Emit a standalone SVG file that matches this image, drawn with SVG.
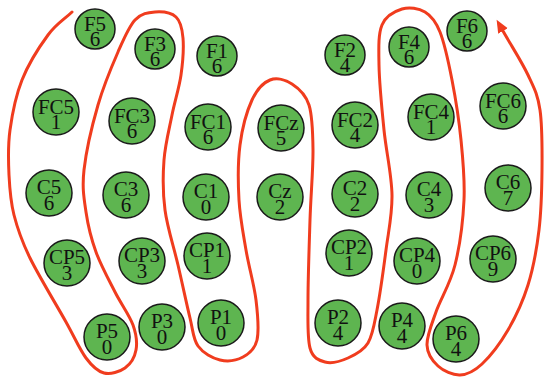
<svg xmlns="http://www.w3.org/2000/svg" width="545" height="377" viewBox="0 0 545 377">
<style>
.n circle{fill:#5eb550;stroke:#1a1a1a;stroke-width:1.5}
.n text{font-family:"Liberation Serif","Times New Roman",serif;font-size:21px;fill:#111;text-anchor:middle}
.c{fill:none;stroke:#f03c1e;stroke-width:3;stroke-linecap:round;stroke-linejoin:round}
</style>
<defs>
<marker id="ah" markerUnits="userSpaceOnUse" markerWidth="14" markerHeight="12" viewBox="0 -6 14 12" refX="0" refY="0" orient="auto">
<path d="M0,-5.5 L13,0 L0,5.5 z" fill="#f03c1e"/>
</marker>
</defs>
<g id="connectors">
<path class="c" marker-end="url(#ah)" d="M72,12 C64,19.7 56.3,23.7 48,35 S28.3,64.2 22,80 S12.2,114.2 10,130 S8.3,160.8 9,175 S10.5,201.2 14,215 S21.3,240.2 30,258 S56.7,305.3 66,322 S79.7,349.5 86,358 S97.5,371.3 104,373 S119.7,371.8 125,368 S134.7,357.2 136,350 S136.5,334.7 133,325 S121.2,304.2 115,292 S100.8,265.3 96,252 S88,225.7 86,212 S82,187.8 84,170 S92.3,124.7 98,105 S111.8,66.2 118,52 S128.8,26.7 135,20 S148.2,12.5 155,12 S171.3,12.7 176,17 S182.2,28.3 183,38 S182.8,62.2 181,75 S174.8,100.8 172,115 S165.2,144.2 164,160 S162.7,192.5 165,210 S173.8,247 178,265 S186.7,304.5 190,318 S193,339 198,346 S212.5,358.2 220,360 S236.8,360.3 243,357 S254.8,349.5 257,340 S257.8,315 256,300 S248.8,266.7 246,250 S240,217.5 239,200 S237.8,161.7 240,145 S247,110.8 252,100 S263.3,82.7 270,80 S285.5,79.8 292,84 S305.5,94 309,105 S312.8,130.8 313,150 S310.8,195 310,220 S308,278.7 308,300 S307.2,337.7 310,348 S318.7,360.3 325,362 S340.8,361.2 348,358 S363.2,351 368,343 S374,325.5 377,310 S383.5,269.2 386,250 S392.3,215 392,195 S386.2,151.7 384,130 S379.3,82.5 379,65 S378.2,34.3 382,25 S394.8,11.2 402,9 S418.7,8.2 425,12 S435.5,20.7 440,32 S448.5,62 452,80 S459,120 461,140 S465,179.2 464,200 S459.7,246.3 455,265 S440.7,298.7 436,312 S426.7,336 427,345 S432.5,361 438,366 S452.7,375.3 460,375 S474,371.5 482,364 S500.3,343.2 508,330 S522.8,301.7 528,285 S536.7,249.2 539,230 S541.8,190 542,170 S542.3,125.8 540,110 S534.2,88.2 528,75 S511.3,45.7 503,31"/>
</g>
<g id="F5" class="n"><circle cx="95" cy="29" r="20"/><text><tspan x="95" y="31">F5</tspan><tspan x="95" y="46">6</tspan></text></g>
<g id="F3" class="n"><circle cx="155" cy="49" r="20"/><text><tspan x="155" y="51">F3</tspan><tspan x="155" y="66">6</tspan></text></g>
<g id="F1" class="n"><circle cx="217" cy="56" r="20"/><text><tspan x="217" y="58">F1</tspan><tspan x="217" y="73">6</tspan></text></g>
<g id="F2" class="n"><circle cx="345" cy="55" r="20"/><text><tspan x="345" y="57">F2</tspan><tspan x="345" y="72">4</tspan></text></g>
<g id="F4" class="n"><circle cx="409" cy="47" r="20"/><text><tspan x="409" y="49">F4</tspan><tspan x="409" y="64">6</tspan></text></g>
<g id="F6" class="n"><circle cx="467" cy="31" r="20"/><text><tspan x="467" y="33">F6</tspan><tspan x="467" y="48">6</tspan></text></g>
<g id="FC5" class="n"><circle cx="56" cy="112" r="23"/><text><tspan x="56" y="114">FC5</tspan><tspan x="56" y="129">1</tspan></text></g>
<g id="FC3" class="n"><circle cx="132" cy="121" r="23"/><text><tspan x="132" y="123">FC3</tspan><tspan x="132" y="138">6</tspan></text></g>
<g id="FC1" class="n"><circle cx="208" cy="127" r="23"/><text><tspan x="208" y="129">FC1</tspan><tspan x="208" y="144">6</tspan></text></g>
<g id="FCz" class="n"><circle cx="281" cy="128" r="23"/><text><tspan x="281" y="130">FCz</tspan><tspan x="281" y="145">5</tspan></text></g>
<g id="FC2" class="n"><circle cx="355" cy="125" r="23"/><text><tspan x="355" y="127">FC2</tspan><tspan x="355" y="142">4</tspan></text></g>
<g id="FC4" class="n"><circle cx="431" cy="117" r="23"/><text><tspan x="431" y="119">FC4</tspan><tspan x="431" y="134">1</tspan></text></g>
<g id="FC6" class="n"><circle cx="503" cy="106" r="23"/><text><tspan x="503" y="108">FC6</tspan><tspan x="503" y="123">6</tspan></text></g>
<g id="C5" class="n"><circle cx="49" cy="193" r="23"/><text><tspan x="49" y="194">C5</tspan><tspan x="49" y="210">6</tspan></text></g>
<g id="C3" class="n"><circle cx="126" cy="195" r="23"/><text><tspan x="126" y="196">C3</tspan><tspan x="126" y="212">6</tspan></text></g>
<g id="C1" class="n"><circle cx="206" cy="197" r="23"/><text><tspan x="206" y="198">C1</tspan><tspan x="206" y="214">0</tspan></text></g>
<g id="Cz" class="n"><circle cx="280" cy="197" r="23"/><text><tspan x="280" y="198">Cz</tspan><tspan x="280" y="214">2</tspan></text></g>
<g id="C2" class="n"><circle cx="355" cy="194" r="23"/><text><tspan x="355" y="195">C2</tspan><tspan x="355" y="211">2</tspan></text></g>
<g id="C4" class="n"><circle cx="429" cy="195" r="23"/><text><tspan x="429" y="196">C4</tspan><tspan x="429" y="212">3</tspan></text></g>
<g id="C6" class="n"><circle cx="508" cy="188" r="23"/><text><tspan x="508" y="189">C6</tspan><tspan x="508" y="205">7</tspan></text></g>
<g id="CP5" class="n"><circle cx="67" cy="263" r="23"/><text><tspan x="67" y="264">CP5</tspan><tspan x="67" y="280">3</tspan></text></g>
<g id="CP3" class="n"><circle cx="142" cy="261" r="23"/><text><tspan x="142" y="262">CP3</tspan><tspan x="142" y="278">3</tspan></text></g>
<g id="CP1" class="n"><circle cx="207" cy="256" r="23"/><text><tspan x="207" y="257">CP1</tspan><tspan x="207" y="273">1</tspan></text></g>
<g id="CP2" class="n"><circle cx="349" cy="253" r="23"/><text><tspan x="349" y="254">CP2</tspan><tspan x="349" y="270">1</tspan></text></g>
<g id="CP4" class="n"><circle cx="417" cy="261" r="23"/><text><tspan x="417" y="262">CP4</tspan><tspan x="417" y="278">0</tspan></text></g>
<g id="CP6" class="n"><circle cx="493" cy="259" r="23"/><text><tspan x="493" y="260">CP6</tspan><tspan x="493" y="276">9</tspan></text></g>
<g id="P5" class="n"><circle cx="107" cy="337" r="23"/><text><tspan x="107" y="338">P5</tspan><tspan x="107" y="354">0</tspan></text></g>
<g id="P3" class="n"><circle cx="162" cy="327" r="23"/><text><tspan x="162" y="328">P3</tspan><tspan x="162" y="344">0</tspan></text></g>
<g id="P1" class="n"><circle cx="221" cy="323" r="23"/><text><tspan x="221" y="324">P1</tspan><tspan x="221" y="340">0</tspan></text></g>
<g id="P2" class="n"><circle cx="338" cy="323" r="23"/><text><tspan x="338" y="324">P2</tspan><tspan x="338" y="340">4</tspan></text></g>
<g id="P4" class="n"><circle cx="402" cy="326" r="23"/><text><tspan x="402" y="327">P4</tspan><tspan x="402" y="343">4</tspan></text></g>
<g id="P6" class="n"><circle cx="456" cy="339" r="23"/><text><tspan x="456" y="340">P6</tspan><tspan x="456" y="356">4</tspan></text></g>
</svg>
